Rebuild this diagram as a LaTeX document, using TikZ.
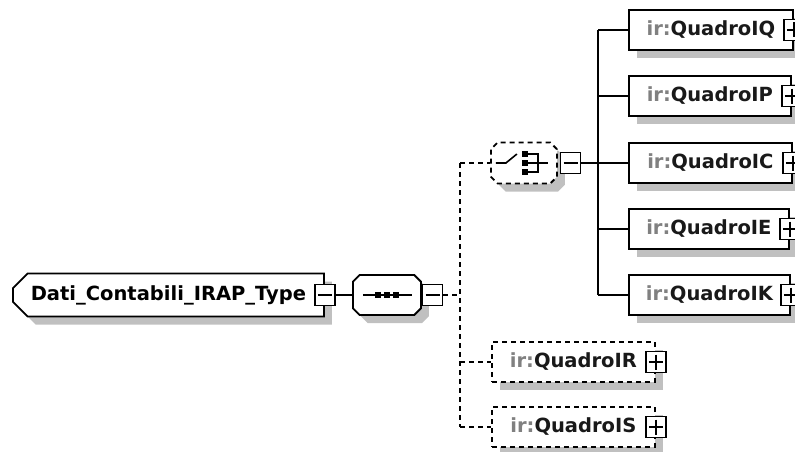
\documentclass[tikz,border=0pt]{standalone}
\usepackage{fontspec}
\setmainfont{DejaVu Sans}
\usetikzlibrary{shapes.misc,shadows,positioning}
\definecolor{shadowgray}{RGB}{192,192,192}
\definecolor{prefixgray}{RGB}{128,128,128}
\def\irname#1{\textcolor{prefixgray}{ir:}#1}
\tikzset{
  boxfont/.style={font=\fontsize{19.5}{23}\selectfont\bfseries},
  grayshadow/.style={drop shadow={shadow xshift=8pt, shadow yshift=-8pt, fill=shadowgray, opacity=1}},
  conn/.style={line width=1.6pt},
  dconn/.style={line width=1.6pt, dash pattern=on 5pt off 4pt},
  elembox/.style={draw, line width=1.8pt, fill=white, rectangle, minimum height=40, anchor=west, boxfont, text=black!90, grayshadow},
  optbox/.style={elembox, dash pattern=on 5pt off 4pt},
  chambox/.style={draw, line width=1.8pt, fill=white, chamfered rectangle, chamfered rectangle angle=45, chamfered rectangle xsep=16pt, anchor=west, grayshadow},
  rootbox/.style={chambox, chamfered rectangle xsep=11pt, chamfered rectangle corners={north west,south west}, minimum width=311, minimum height=43, boxfont},
  seqbox/.style={chambox, minimum width=68, minimum height=40},
  choicebox/.style={chambox, dash pattern=on 5pt off 4pt, minimum width=66, minimum height=41},
  pmbox/.style={draw, line width=1.5pt, fill=white, rectangle, minimum width=20, minimum height=21, inner sep=0pt},
  minusbox/.style={pmbox, path picture={\draw[line width=1.5pt] ([xshift=3pt]path picture bounding box.west) -- ([xshift=-3pt]path picture bounding box.east);}},
  plusbox/.style={pmbox, path picture={\draw[line width=1.5pt] ([xshift=3pt]path picture bounding box.west) -- ([xshift=-3pt]path picture bounding box.east) ([yshift=-3pt]path picture bounding box.north) -- ([yshift=3pt]path picture bounding box.south);}}
}

\begin{document}
\begin{tikzpicture}[x=1pt, y=-1pt]
	%%%%% START %%%%%
	\useasboundingbox (0,0) rectangle (795,452);
	
	\node[rootbox] (root) at (12,295) {Dati\_Contabili\_IRAP\_Type\hspace{22pt}};
	\node[minusbox] (rootm) at (root.east) {};
	
	\node[seqbox] (seq) at (352,295) {};
	\node[minusbox, anchor=west] (seqm) at (seq.east) {};
	\draw[conn] ([xshift=-24pt]seq.center) -- ([xshift=25pt]seq.center);
	\fill ([xshift=-9pt]seq.center) +(-3,-3) rectangle +(3,3);
	\fill (seq.center) +(-3,-3) rectangle +(3,3);
	\fill ([xshift=9pt]seq.center) +(-3,-3) rectangle +(3,3);
	
	\node[choicebox] (ch) at (490,163) {};
	\node[minusbox, anchor=west] (chm) at ([xshift=2pt]ch.east) {};
	\begin{scope}[shift={(ch.center)}]
		\draw[conn] (-28,0) -- (-18,0) -- (-7,-9);
		\fill (1.5,-9) +(-3,-3) rectangle +(3,3);
		\fill (1.5,0) +(-3,-3) rectangle +(3,3);
		\fill (1.5,9) +(-3,-3) rectangle +(3,3);
		\draw[conn] (4,-9) -- (14,-9) -- (14,9) -- (4,9) (4,0) -- (24,0);
	\end{scope}
	
	\node[elembox, minimum width=164] (qq) at (628,30) {\irname{QuadroIQ}};
	\node[plusbox] (qqp) at (qq.east) {};
	\node[elembox, minimum width=162] (qp) at (628,96) {\irname{QuadroIP}};
	\node[plusbox] (qpp) at (qp.east) {};
	\node[elembox, minimum width=163] (qc) at (628,163) {\irname{QuadroIC}};
	\node[plusbox] (qcp) at (qc.east) {};
	\node[elembox, minimum width=160] (qe) at (628,229) {\irname{QuadroIE}};
	\node[plusbox] (qep) at (qe.east) {};
	\node[elembox, minimum width=161] (qk) at (628,295) {\irname{QuadroIK}};
	\node[plusbox] (qkp) at (qk.east) {};
	
	\node[optbox, minimum width=163] (qr) at (491,362) {\irname{QuadroIR}};
	\node[plusbox] (qrp) at (qr.east) {};
	\node[optbox, minimum width=163] (qs) at (491,427) {\irname{QuadroIS}};
	\node[plusbox] (qsp) at (qs.east) {};
	
	% connectors
	\draw[conn] (rootm) -- (seq);
	\coordinate (dbar) at (460,0);
	\draw[dconn] (seqm) -- (dbar |- seqm.east);
	\draw[dconn] (dbar |- ch.west) -- (dbar |- qs.west);
	\draw[dconn] (dbar |- ch.west) -- (ch);
	\draw[dconn] (dbar |- qr.west) -- (qr);
	\draw[dconn] (dbar |- qs.west) -- (qs);
	
	\coordinate (bar) at (598,0);
	\draw[conn] (chm) -- (qc);
	\draw[conn] (bar |- qq.west) -- (bar |- qk.west);
	\draw[conn] (bar |- qq.west) -- (qq);
	\draw[conn] (bar |- qp.west) -- (qp);
	\draw[conn] (bar |- qe.west) -- (qe);
	\draw[conn] (bar |- qk.west) -- (qk);
	
	%%%%% END %%%%%
\end{tikzpicture}
\end{document}
